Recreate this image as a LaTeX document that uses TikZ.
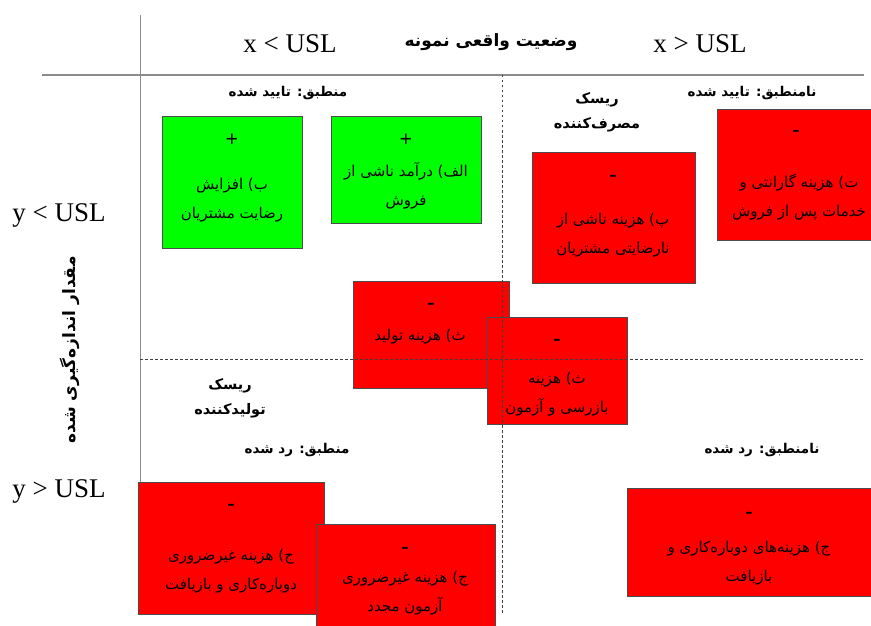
\documentclass[tikz,border=0pt]{standalone}
\usepackage{fontspec}
\setmainfont{Liberation Serif}
\newfontfamily\fa[Script=Arabic]{DejaVu Sans}
\TeXXeTstate=1
\newcommand{\pr}[1]{{\fa\beginR #1\endR}}
\tikzset{
  box/.style={draw=black!70, line width=0.7pt, inner sep=0pt, anchor=north west},
  gbox/.style={box, fill=green},
  rbox/.style={box, fill=red},
  sign/.style={font=\bfseries\fontsize{22}{22}\selectfont, inner sep=0pt},
  btxt/.style={font=\fontsize{15}{29}\selectfont, align=center, inner sep=0pt},
  lab/.style={font=\bfseries\fontsize{13.5}{25}\selectfont, align=center, inner sep=0pt},
  latin/.style={font=\fontsize{27}{27}\selectfont, inner sep=0pt},
  axis/.style={draw=black!45},
  grid/.style={draw=black!75, line width=0.6pt, dash pattern=on 2.5pt off 2.5pt}
}
\begin{document}
\begin{tikzpicture}[x=1pt,y=-1pt]
\useasboundingbox (0,0) rectangle (871,626);
% axes
\coordinate (vt) at (140,15); \coordinate (vb) at (140,614);
\coordinate (hl) at (42,75); \coordinate (hr) at (864,75);
\draw[axis, line width=0.8pt] (vt) -- (vb);
\draw[axis, line width=2pt] (hl) -- (hr);
% header
\node[latin] (xl) at (290,44) {x < USL};
\node[font=\bfseries\fontsize{17}{17}\selectfont, inner sep=0pt] (title) at (491,42) {\pr{وضعیت واقعی نمونه}};
\node[latin] (xg) at (700,44) {x > USL};
\node[latin] (yl) at (59,215) {y < USL};
\node[latin] (yg) at (59,491) {y > USL};
\node[font=\bfseries\fontsize{17}{17}\selectfont, inner sep=0pt, rotate=90] (ylab) at (70,350) {\pr{مقدار اندازه‌گیری شده}};
% quadrant labels
\node[lab] (q1) at (288,93) {\pr{منطبق: تایید شده}};
\node[lab] (q2) at (752,93) {\pr{نامنطبق: تایید شده}};
\node[lab] (q3) at (297,450) {\pr{منطبق: رد شده}};
\node[lab] (q4) at (762,450) {\pr{نامنطبق: رد شده}};
\node[lab, font=\bfseries\fontsize{14.5}{25}\selectfont] (rc) at (597,112) {\pr{ریسک}\\\pr{مصرف‌کننده}};
\node[lab, font=\bfseries\fontsize{14.5}{25}\selectfont] (rp) at (230,398) {\pr{ریسک}\\\pr{تولیدکننده}};
% boxes
\node[gbox, minimum width=140pt, minimum height=132pt] (b1) at (162,116) {};
\node[sign] (s1) at (232,140) {+};
\node[btxt] (t1) at (232,200) {\pr{ب) افزایش}\\\pr{رضایت مشتریان}};
\node[gbox, minimum width=150pt, minimum height=107pt] (b2) at (331,116) {};
\node[sign] (s2) at (406,140) {+};
\node[btxt] (t2) at (406,186) {\pr{الف) درآمد ناشی از}\\\pr{فروش}};
\node[rbox, minimum width=163pt, minimum height=131pt] (b3) at (532,152) {};
\node[sign] (s3) at (613,178) {-};
\node[btxt] (t3) at (613,235) {\pr{پ) هزینه ناشی از}\\\pr{نارضایتی مشتریان}};
\node[rbox, minimum width=156pt, minimum height=131pt] (b4) at (717,109) {};
\node[sign] (s4) at (796,133) {-};
\node[btxt] (t4) at (799,197) {\pr{ت) هزینه گارانتی و}\\\pr{خدمات پس از فروش}};
\node[rbox, minimum width=156pt, minimum height=107pt] (b5) at (353,281) {};
\node[sign] (s5) at (431,306) {-};
\node[btxt] (t5) at (420,337) {\pr{ث) هزینه تولید}};
\node[rbox, minimum width=140pt, minimum height=107pt] (b6) at (487,317) {};
\node[sign] (s6) at (557,342) {-};
\node[btxt] (t6) at (557,394) {\pr{ث) هزینه}\\\pr{بازرسی و آزمون}};
\node[rbox, minimum width=186pt, minimum height=132pt] (b7) at (138,482) {};
\node[sign] (s7) at (231,507) {-};
\node[btxt] (t7) at (231,571) {\pr{ج) هزینه غیرضروری}\\\pr{دوباره‌کاری و بازیافت}};
\node[rbox, minimum width=179pt, minimum height=104pt] (b8) at (316,524) {};
\node[sign] (s8) at (405,550) {-};
\node[btxt] (t8) at (405,593) {\pr{ج) هزینه غیرضروری}\\\pr{آزمون مجدد}};
\node[rbox, minimum width=246pt, minimum height=108pt] (b9) at (627,488) {};
\node[sign] (s9) at (749,515) {-};
\node[btxt] (t9) at (749,563) {\pr{ج) هزینه‌های دوباره‌کاری و}\\\pr{بازیافت}};
% dashed dividers (on top)
\coordinate (dt) at (502,75); \coordinate (db) at (502,614);
\coordinate (dl) at (140,359); \coordinate (dr) at (864,359);
\draw[grid] (dt) -- (db);
\draw[grid] (dl) -- (dr);
\end{tikzpicture}
\end{document}
